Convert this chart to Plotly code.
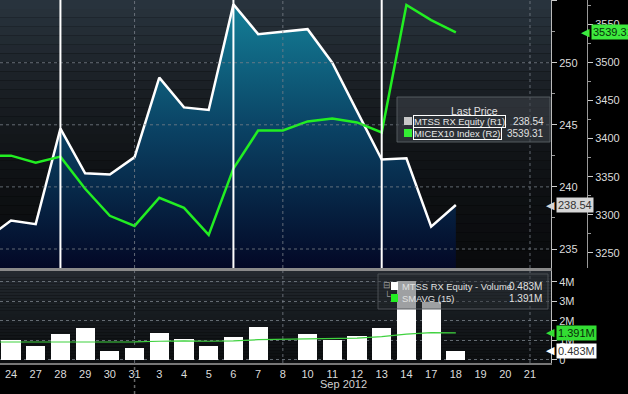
import plotly.graph_objects as go

# ---------------- data ----------------
dates = ["2012-08-23", "2012-08-24", "2012-08-27", "2012-08-28", "2012-08-29", "2012-08-30",
         "2012-08-31", "2012-09-03", "2012-09-04", "2012-09-05", "2012-09-06", "2012-09-07",
         "2012-09-08", "2012-09-10", "2012-09-11", "2012-09-12", "2012-09-13", "2012-09-14",
         "2012-09-17", "2012-09-18", "2012-09-19", "2012-09-20", "2012-09-21"]
day_labels = ["23", "24", "27", "28", "29", "30", "31", "3", "4", "5", "6", "7", "8", "10",
              "11", "12", "13", "14", "17", "18", "19", "20", "21"]
mtss_price = [235.8, 237.3, 237.0, 244.7, 241.1, 241.0, 242.4, 248.8, 246.4, 246.2, 254.7, 252.3,
              None, 252.7, 250.0, 246.1, 242.2, 242.3, 236.8, 238.54, None, None, None]
micex_index = [3377.6, 3377.6, 3368.4, 3376.3, 3334.2, 3298.7, 3285.5, 3322.4, 3309.2, 3273.7,
               3360.5, 3410.5, 3410.5, 3422.4, 3426.3, 3421.1, 3407.9, 3575.0, 3555.3, 3539.31,
               None, None, None]
volume_m = [0.90, 1.03, 0.72, 1.33, 1.64, 0.46, 0.62, 1.38, 1.08, 0.72, 1.18, 1.69, None, 1.33,
            1.03, 1.23, 1.64, 4.05, 2.97, 0.483, None, None, None]
smavg_m = [0.92, 0.92, 0.91, 0.92, 0.94, 0.93, 0.93, 0.96, 0.98, 0.96, 0.98, 1.04, None, 1.08,
           1.08, 1.12, 1.20, 1.33, 1.40, 1.391, None, None, None]
event_dates = ["2012-08-28", "2012-09-06", "2012-09-13"]
grid_dates = ["2012-08-31", "2012-09-08", "2012-09-21"]
price_grid = [235, 240, 245, 250]
volume_tickvals = [0, 1, 2, 3, 4]
volume_ticktext = ["0", "1M", "2M", "3M", "4M"]
last_price = 238.54
last_index = 3539.31
last_volume = 0.483
last_smavg = 1.391

# ---------------- geometry helpers (pixels -> paper) ----------------
W, H = 628, 394
MB = 31
PH = H - MB


def px(x):
    return x / W


def py(y):
    return (PH - y) / PH


X_RIGHT = 551
TOP_BOTTOM = 268
BOT_TOP = 271
FONT = "Arial, Liberation Sans, sans-serif"
FS = 10
LFS = 9.4


def lerp_color(stops, t):
    for i in range(len(stops) - 1):
        t0, c0 = stops[i]
        t1, c1 = stops[i + 1]
        if t0 <= t <= t1:
            f = (t - t0) / (t1 - t0) if t1 > t0 else 0
            c = [round(c0[k] + (c1[k] - c0[k]) * f) for k in range(3)]
            return "rgb(%d,%d,%d)" % tuple(c)
    return "rgb(%d,%d,%d)" % tuple(stops[-1][1])


shapes = []
# background gradient bands
top_stops = [(0, (41, 52, 62)), (0.35, (25, 30, 35)), (0.6, (16, 19, 22)), (1, (9, 10, 12))]
bot_stops = [(0, (36, 42, 48)), (0.5, (22, 26, 30)), (1, (12, 14, 16))]
NB = 30
for i in range(NB):
    y0 = TOP_BOTTOM * i / NB
    y1 = TOP_BOTTOM * (i + 1) / NB
    shapes.append(dict(type="rect", xref="paper", yref="paper", x0=0, x1=px(X_RIGHT),
                       y0=py(y1), y1=py(y0), line=dict(width=0),
                       fillcolor=lerp_color(top_stops, (i + 0.5) / NB), layer="below"))
for i in range(NB):
    y0 = BOT_TOP + (PH - BOT_TOP) * i / NB
    y1 = BOT_TOP + (PH - BOT_TOP) * (i + 1) / NB
    shapes.append(dict(type="rect", xref="paper", yref="paper", x0=0, x1=px(X_RIGHT),
                       y0=py(y1), y1=py(y0), line=dict(width=0),
                       fillcolor=lerp_color(bot_stops, (i + 0.5) / NB), layer="below"))

GRIDC = "rgba(120,128,136,0.8)"
# vertical grid lines bottom panel (below bars)
for d in grid_dates:
    shapes.append(dict(type="line", xref="x", yref="paper", x0=d, x1=d, y0=0, y1=py(BOT_TOP),
                       line=dict(color=GRIDC, width=1, dash="dot"), layer="below"))
# top panel grid lines (drawn above the area fill)
for d in grid_dates:
    shapes.append(dict(type="line", xref="x", yref="paper", x0=d, x1=d, y0=py(TOP_BOTTOM), y1=1,
                       line=dict(color=GRIDC, width=1, dash="dot"), layer="above"))
for v in price_grid:
    shapes.append(dict(type="line", xref="paper", yref="y", x0=0, x1=px(X_RIGHT), y0=v, y1=v,
                       line=dict(color=GRIDC, width=1, dash="dot"), layer="above"))
# event markers
for d in event_dates:
    shapes.append(dict(type="line", xref="x", yref="paper", x0=d, x1=d, y0=py(TOP_BOTTOM), y1=1,
                       line=dict(color="white", width=2), layer="above"))
# month divider in label strip
shapes.append(dict(type="line", xref="x", yref="paper", x0=grid_dates[0], x1=grid_dates[0],
                   y0=py(H), y1=0, line=dict(color="#666", width=1.5, dash="dot"), layer="above"))
# separator
shapes.append(dict(type="rect", xref="paper", yref="paper", x0=0, x1=px(X_RIGHT + 1),
                   y0=py(BOT_TOP), y1=py(TOP_BOTTOM), line=dict(width=0), fillcolor="#8a8a8a",
                   layer="above"))
# legend boxes
shapes.append(dict(type="rect", xref="paper", yref="paper", x0=px(397), x1=px(550),
                   y0=py(142), y1=py(97), line=dict(color="rgba(90,95,100,0.9)", width=1),
                   fillcolor="rgba(60,65,72,0.6)", layer="above"))
shapes.append(dict(type="rect", xref="paper", yref="paper", x0=px(404), x1=px(412),
                   y0=py(125), y1=py(117), line=dict(width=0), fillcolor="#c8c8c8", layer="above"))
shapes.append(dict(type="rect", xref="paper", yref="paper", x0=px(404), x1=px(412),
                   y0=py(137), y1=py(129), line=dict(width=0), fillcolor="#33ee33", layer="above"))
shapes.append(dict(type="rect", xref="paper", yref="paper", x0=px(378), x1=px(548),
                   y0=py(309), y1=py(274), line=dict(color="rgba(80,85,90,0.9)", width=1),
                   fillcolor="rgba(40,44,48,0.45)", layer="above"))
shapes.append(dict(type="rect", xref="paper", yref="paper", x0=px(391), x1=px(398),
                   y0=py(290), y1=py(282), line=dict(width=0), fillcolor="#ffffff", layer="above"))
shapes.append(dict(type="rect", xref="paper", yref="paper", x0=px(391), x1=px(398),
                   y0=py(302), y1=py(294), line=dict(width=0), fillcolor="#22ee22", layer="above"))

fig = go.Figure()
fig.add_trace(go.Scatter(
    x=dates, y=mtss_price, mode="lines", connectgaps=True, xaxis="x", yaxis="y",
    line=dict(color="white", width=2.5), fill="tozeroy",
    fillgradient=dict(type="vertical", start=233.5, stop=255,
                      colorscale=[[0, "#030826"], [0.5, "#0a4062"], [1, "#148199"]]),
    hoverinfo="skip", showlegend=False))
fig.add_trace(go.Scatter(
    x=dates, y=micex_index, mode="lines", connectgaps=True, xaxis="x", yaxis="y2",
    line=dict(color="#22ee22", width=2.5), hoverinfo="skip", showlegend=False))
fig.add_trace(go.Bar(
    x=dates, y=volume_m, xaxis="x2", yaxis="y3", marker=dict(color="white", line=dict(width=0)),
    width=0.77, hoverinfo="skip", showlegend=False))
fig.add_trace(go.Scatter(
    x=dates, y=smavg_m, mode="lines", connectgaps=True, xaxis="x2", yaxis="y3",
    line=dict(color="#3fd23f", width=1.2), hoverinfo="skip", showlegend=False))

x_range = [0.555, 22.85]
tickfont = dict(family=FONT, size=FS + 1, color="#dcdcdc")

annotations = []


def ann(text, x, y, xanchor="left", color="#e0e0e0", size=LFS, **kw):
    d = dict(text=text, xref="paper", yref="paper", x=px(x), y=py(y), xanchor=xanchor,
             yanchor="middle", showarrow=False, font=dict(family=FONT, size=size, color=color))
    d.update(kw)
    annotations.append(d)


ann("Last Price", 474, 111, xanchor="center", size=FS + 0.5)
ann("MTSS RX Equity (R1)", 413, 121, color="#e8e8e8", bordercolor="white", borderwidth=1,
    borderpad=0)
ann("MICEX10 Index (R2)", 413, 133, color="#e8e8e8", bordercolor="white", borderwidth=1,
    borderpad=0)
ann(f"{last_price:.2f}", 546, 121, xanchor="right", size=FS)
ann(f"{last_index:.2f}", 546, 133, xanchor="right", size=FS)
ann("MTSS RX Equity - Volume", 400, 286)
ann("SMAVG (15)", 400, 298)
ann(f"{last_volume:.3f}M", 544, 286, xanchor="right", size=FS)
ann(f"{last_smavg:.3f}M", 544, 298, xanchor="right", size=FS)
ann("⊟", 381, 285, color="#9a9a9a", size=9)
ann("└", 382, 295, color="#9a9a9a", size=9)
ann("Sep 2012", 343, 384, xanchor="center", color="#d0d0d0", size=FS + 1)


def tag(text, x, yref, y, bg, fg):
    annotations.append(dict(text=text, xref="paper", yref=yref, x=px(x + 4), y=y,
                            xanchor="left", yanchor="middle", showarrow=False, bgcolor=bg,
                            borderpad=1, font=dict(family=FONT, size=FS + 1, color=fg)))
    annotations.append(dict(text="◀", xref="paper", yref=yref, x=px(x + 5), y=y,
                            xanchor="right", yanchor="middle", showarrow=False,
                            font=dict(family="DejaVu Sans", size=11, color=bg)))


tag(f"{last_index:.2f}", 587, "y2", last_index, "#3dea3d", "#06300a")
tag(f"{last_price:.2f}", 552, "y", last_price, "#d6d6d6", "#333333")
tag(f"{last_smavg:.3f}M", 552, "y3", last_smavg, "#33dd33", "#0a2a0a")
tag(f"{last_volume:.3f}M", 552, "y3", last_volume, "#ffffff", "#333333")

fig.update_layout(
    width=W, height=H,
    margin=dict(l=0, r=0, t=0, b=MB),
    paper_bgcolor="black", plot_bgcolor="rgba(0,0,0,0)",
    font=dict(family=FONT, size=FS, color="#dcdcdc"),
    showlegend=False, bargap=0, hovermode=False,
    xaxis=dict(domain=[0, px(X_RIGHT)], anchor="y", type="category", categoryorder="array",
               categoryarray=dates, range=x_range, showticklabels=False, showgrid=False,
               zeroline=False, ticks=""),
    xaxis2=dict(domain=[0, px(X_RIGHT)], anchor="y3", type="category", categoryorder="array",
                categoryarray=dates, range=x_range, matches="x", tickvals=dates,
                ticktext=day_labels, tickfont=tickfont, showgrid=False, zeroline=False,
                showline=True, linecolor="#777", linewidth=1.5, ticks=""),
    yaxis=dict(domain=[py(TOP_BOTTOM), 1], anchor="x", side="right", range=[233.47, 255.05],
               dtick=5, showgrid=False, zeroline=False, showline=True, linecolor="#bbbbbb",
               ticks="outside", ticklen=5, tickcolor="#cccccc", tickfont=tickfont,
               minor=dict(dtick=2.5, ticks="outside", ticklen=3, tickcolor="#999")),
    yaxis2=dict(overlaying="y", anchor="free", position=px(587), side="right",
                range=[3230.3, 3581.6], dtick=50, showgrid=False, zeroline=False, showline=True,
                linecolor="#999999", ticks="outside", ticklen=5, tickcolor="#cccccc",
                tickfont=tickfont,
                minor=dict(dtick=25, ticks="outside", ticklen=3, tickcolor="#999")),
    yaxis3=dict(domain=[0, py(BOT_TOP)], anchor="x2", side="right", range=[-0.154, 4.56],
                tickvals=volume_tickvals, ticktext=volume_ticktext, showgrid=True,
                gridcolor=GRIDC, griddash="dot", gridwidth=1, zeroline=False, showline=True,
                linecolor="#bbbbbb", ticks="outside", ticklen=5, tickcolor="#cccccc",
                tickfont=tickfont),
    shapes=shapes,
    annotations=annotations,
)

fig.write_html("out.html",
               config={"displayModeBar": False},
               post_script="document.body.style.margin='0px';"
                           "document.body.style.background='black';")
